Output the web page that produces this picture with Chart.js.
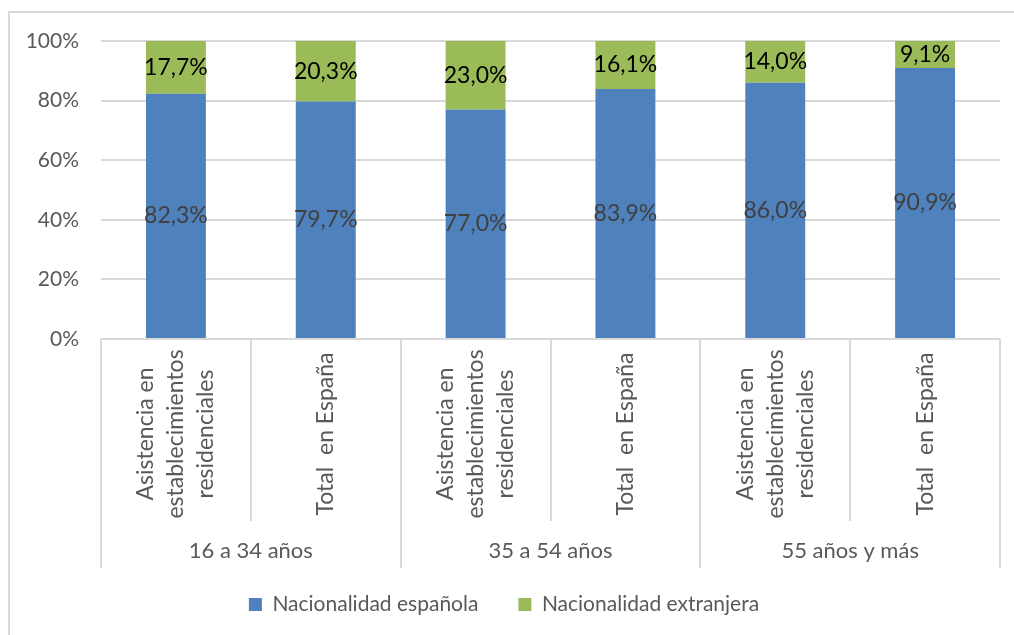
<!DOCTYPE html>
<html>
<head>
<meta charset="utf-8">
<script src="https://cdn.jsdelivr.net/npm/chart.js@4.4.1/dist/chart.umd.min.js"></script>
<style>
  html, body { margin: 0; padding: 0; background: #fff; overflow: hidden; }
  #frame { position: absolute; left: 8px; top: 11px; width: 1040px; height: 660px; border: 2px solid #d9d9d9; box-sizing: border-box; }
  #c { position: absolute; left: 0; top: 0; }
</style>
</head>
<body>
<div id="frame"></div>
<canvas id="c" width="1014" height="635"></canvas>
<script>
// datos
const categorias = [
    ['Asistencia en', 'establecimientos', 'residenciales'],
    ['Total  en España'],
    ['Asistencia en', 'establecimientos', 'residenciales'],
    ['Total  en España'],
    ['Asistencia en', 'establecimientos', 'residenciales'],
    ['Total  en España']
];
const grupos = ['16 a 34 años', '35 a 54 años', '55 años y más'];
const espanola = [82.3, 79.7, 77.0, 83.9, 86.0, 90.9];
const extranjera = [17.7, 20.3, 23.0, 16.1, 14.0, 9.1];
const ticksY = [0, 20, 40, 60, 80, 100];

const FONT = 'Lato, "Open Sans", sans-serif';
const GRIS = '#595959';
const LINEA = '#d9d9d9';

// etiquetas de datos en el centro de cada segmento
const etiquetasPlugin = {
    id: 'etiquetas',
    afterDatasetsDraw(chart) {
        const ctx = chart.ctx;
        ctx.save();
        ctx.textAlign = 'center';
        ctx.textBaseline = 'middle';
        chart.data.datasets.forEach((ds, i) => {
            const meta = chart.getDatasetMeta(i);
            ctx.font = '23px ' + FONT;
            ctx.fillStyle = i === 0 ? '#404040' : '#000000';
            meta.data.forEach((bar, j) => {
                const y = (bar.y + bar.base) / 2;
                ctx.fillText(ds.data[j].toFixed(1).replace('.', ',') + '%', bar.x, y);
            });
        });
        ctx.restore();
    }
};

// eje de categorías en dos niveles
const ejePlugin = {
    id: 'ejeMultinivel',
    afterDraw(chart) {
        const ctx = chart.ctx;
        const x = chart.scales.x;
        const top = chart.chartArea.bottom;
        const paso = x.getPixelForValue(1) - x.getPixelForValue(0);
        const subFondo = top + 182;
        const grupoFondo = top + 229;
        ctx.save();
        ctx.strokeStyle = LINEA;
        ctx.lineWidth = 2;
        for (let i = 0; i <= categorias.length; i++) {
            const px = Math.round(x.getPixelForValue(0) - paso / 2 + i * paso);
            ctx.beginPath();
            ctx.moveTo(px, top);
            ctx.lineTo(px, i % 2 === 0 ? grupoFondo : subFondo);
            ctx.stroke();
        }
        ctx.fillStyle = GRIS;
        ctx.textAlign = 'center';
        ctx.textBaseline = 'middle';
        ctx.font = '23px ' + FONT;
        categorias.forEach((lineas, i) => {
            const cx = x.getPixelForValue(i);
            const cy = top + 95;
            ctx.save();
            ctx.translate(cx, cy);
            ctx.rotate(-Math.PI / 2);
            lineas.forEach((t, k) => {
                ctx.fillText(t, 0, (k - (lineas.length - 1) / 2) * 30);
            });
            ctx.restore();
        });
        ctx.font = '22px ' + FONT;
        grupos.forEach((g, i) => {
            const cx = (x.getPixelForValue(i * 2) + x.getPixelForValue(i * 2 + 1)) / 2;
            ctx.fillText(g, cx, top + 212);
        });
        ctx.restore();
    }
};

new Chart(document.getElementById('c'), {
    type: 'bar',
    data: {
        labels: categorias,
        datasets: [{
            label: 'Nacionalidad española',
            data: espanola,
            backgroundColor: '#4f81bd',
            barPercentage: 0.4,
            categoryPercentage: 1
        }, {
            label: 'Nacionalidad extranjera',
            data: extranjera,
            backgroundColor: '#9bbb59',
            barPercentage: 0.4,
            categoryPercentage: 1
        }]
    },
    options: {
        responsive: false,
        animation: false,
        layout: { padding: { left: 8, right: 14, top: 41, bottom: 10 } },
        plugins: {
            legend: {
                position: 'bottom',
                labels: {
                    boxWidth: 13,
                    boxHeight: 13,
                    padding: 40,
                    color: GRIS,
                    font: { family: FONT, size: 21 }
                }
            },
            tooltip: { enabled: false }
        },
        scales: {
            x: {
                stacked: true,
                grid: { display: false },
                border: { display: false },
                ticks: { display: false },
                afterFit(scale) { scale.height = 215; }
            },
            y: {
                stacked: true,
                min: 0,
                max: 100,
                afterBuildTicks(scale) { scale.ticks = ticksY.map(v => ({ value: v })); },
                afterFit(scale) { scale.width = 93; },
                grid: { color: LINEA, lineWidth: 2, drawTicks: false },
                border: { display: false },
                ticks: {
                    padding: 22,
                    color: GRIS,
                    font: { family: FONT, size: 21 },
                    callback: v => v + '%'
                }
            }
        }
    },
    plugins: [etiquetasPlugin, ejePlugin]
});
</script>
</body>
</html>
